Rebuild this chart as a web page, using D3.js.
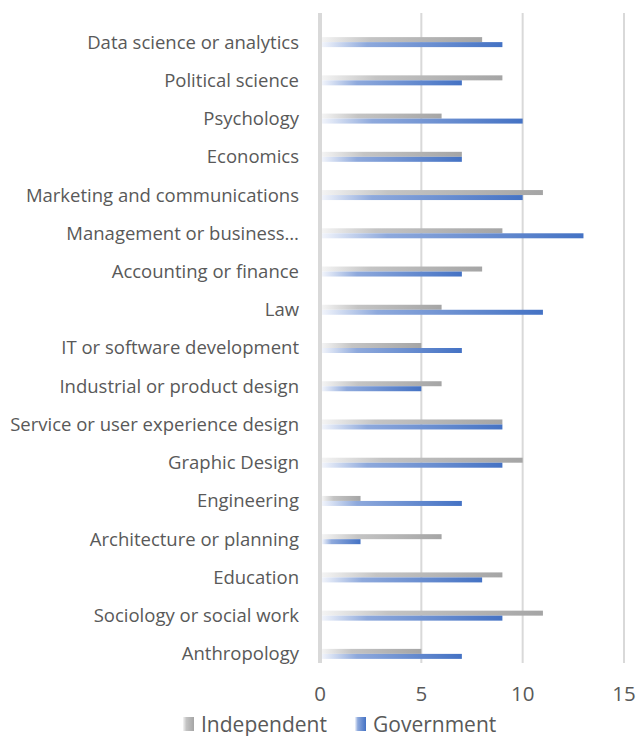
<!DOCTYPE html>
<html>
<head>
<meta charset="utf-8">
<script src="https://cdn.jsdelivr.net/npm/d3@7"></script>
<style>
  body { margin: 0; background: #fff; }
  svg { display: block; }
  text { font-family: "Open Sans", sans-serif; fill: #595959; }
</style>
</head>
<body>
<div id="chart"></div>
<script>
// categories, top to bottom
var categories = [
    "Data science or analytics",
    "Political science",
    "Psychology",
    "Economics",
    "Marketing and communications",
    "Management or business\u2026",
    "Accounting or finance",
    "Law",
    "IT or software development",
    "Industrial or product design",
    "Service or user experience design",
    "Graphic Design",
    "Engineering",
    "Architecture or planning",
    "Education",
    "Sociology or social work",
    "Anthropology"
];

var independent = [8, 9, 6, 7, 11, 9, 8, 6, 5, 6, 9, 10, 2, 6, 9, 11, 5];
var government  = [9, 7, 10, 7, 10, 13, 7, 11, 7, 5, 9, 9, 7, 2, 8, 9, 7];

var seriesNames = ["Independent", "Government"];
var xTicks = [0, 5, 10, 15];

var width = 638, height = 736;

var svg = d3.select("#chart").append("svg")
    .attr("width", width)
    .attr("height", height);

// gradients like the excel fills
var defs = svg.append("defs");
var grads = {
    Independent: [["0%", "#f4f4f4"], ["30%", "#c4c4c4"], ["100%", "#a5a5a5"]],
    Government: [["0%", "#f1f4fb"], ["25%", "#8ea9dc"], ["100%", "#4472c4"]]
};
Object.keys(grads).forEach(function(k) {
    var g = defs.append("linearGradient")
        .attr("id", "grad-" + k)
        .attr("x1", "0%").attr("x2", "100%")
        .attr("y1", "0%").attr("y2", "0%");
    grads[k].forEach(function(s) {
        g.append("stop").attr("offset", s[0]).attr("stop-color", s[1]);
    });
});

var x = d3.scaleLinear().domain([0, 15]).range([320, 624]);
var y = d3.scaleBand().domain(categories).range([23, 673]);

var gridTop = 13, gridBottom = 663;

// gridlines
svg.append("g").selectAll("line")
    .data(xTicks)
    .enter().append("line")
    .attr("x1", function(d) { return x(d); })
    .attr("x2", function(d) { return x(d); })
    .attr("y1", gridTop)
    .attr("y2", gridBottom)
    .attr("stroke", "#d9d9d9")
    .attr("stroke-width", function(d) { return d === 0 ? 4 : 2; });

var barH = 5;

// bars
var groups = svg.append("g").selectAll("g")
    .data(categories)
    .enter().append("g");

groups.append("rect")
    .attr("x", x(0) + 2)
    .attr("y", function(d) { return y(d) + y.bandwidth() / 2 - barH; })
    .attr("width", function(d, i) { return x(independent[i]) - x(0) - 2; })
    .attr("height", barH)
    .attr("fill", "url(#grad-Independent)");

groups.append("rect")
    .attr("x", x(0) + 2)
    .attr("y", function(d) { return y(d) + y.bandwidth() / 2; })
    .attr("width", function(d, i) { return x(government[i]) - x(0) - 2; })
    .attr("height", barH)
    .attr("fill", "url(#grad-Government)");

// category labels
groups.append("text")
    .attr("x", 299)
    .attr("y", function(d) { return y(d) + y.bandwidth() / 2; })
    .attr("dy", "0.35em")
    .attr("text-anchor", "end")
    .style("font-size", "18.5px")
    .text(function(d) { return d; });

// x axis labels
svg.append("g").selectAll("text")
    .data(xTicks)
    .enter().append("text")
    .attr("x", function(d) { return x(d); })
    .attr("y", 701)
    .attr("text-anchor", "middle")
    .style("font-size", "20.5px")
    .text(function(d) { return d; });

// legend
var legendX = [183, 355];
var legend = svg.append("g").selectAll("g")
    .data(seriesNames)
    .enter().append("g")
    .attr("transform", function(d, i) { return "translate(" + legendX[i] + ",717)"; });

legend.append("rect")
    .attr("width", 11)
    .attr("height", 14)
    .attr("fill", function(d) { return "url(#grad-" + d + ")"; });

legend.append("text")
    .attr("x", 18)
    .attr("y", 15)
    .style("font-size", "21px")
    .text(function(d) { return d; });
</script>
</body>
</html>
